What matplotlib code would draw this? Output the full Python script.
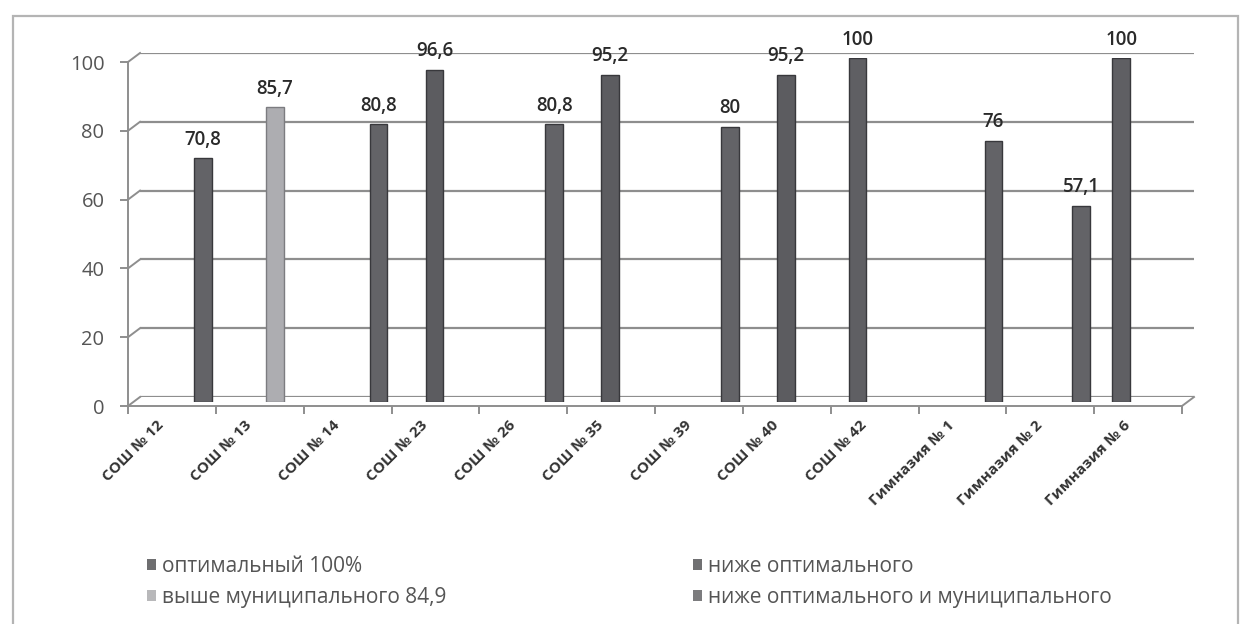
import numpy as np
import matplotlib.pyplot as plt
from matplotlib.patches import Rectangle, Patch
from matplotlib.lines import Line2D
from matplotlib.transforms import ScaledTranslation

plt.rcParams['font.family'] = ['Open Sans', 'DejaVu Sans']

nan = np.nan

categories = ['СОШ № 12', 'СОШ № 13', 'СОШ № 14', 'СОШ № 23', 'СОШ № 26', 'СОШ № 35',
              'СОШ № 39', 'СОШ № 40', 'СОШ № 42', 'Гимназия № 1', 'Гимназия № 2', 'Гимназия № 6']

# one value per school, the other series are empty there
optimal    = [nan, nan, nan, nan, nan, nan, nan, nan, 100, nan, nan, 100]
below_opt  = [nan, nan, nan, 96.6, nan, 95.2, nan, 95.2, nan, nan, nan, nan]
above_mun  = [nan, 85.7, nan, nan, nan, nan, nan, nan, nan, nan, nan, nan]
below_both = [70.8, nan, 80.8, nan, 80.8, nan, 80, nan, nan, 76, 57.1, nan]

series_names = ['оптимальный 100%', 'ниже оптимального',
                'выше муниципального 84,9', 'ниже оптимального и муниципального']
series_vals = [optimal, below_opt, above_mun, below_both]
series_colors = ['#5f5f63', '#5c5c60', '#adadb1', '#636367']
edge_colors = ['#38383c', '#38383c', '#7c7c80', '#38383c']
legend_colors = ['#6e6e70', '#707072', '#b8b8ba', '#7c7c7e']

yticks = [0, 20, 40, 60, 80, 100]

W, H = 1247, 624
fig = plt.figure(figsize=(W / 100, H / 100), dpi=100)


def px_axes(left, top, right, bottom):
    a = fig.add_axes([left / W, 1 - bottom / H, (right - left) / W, (bottom - top) / H])
    a.set_xlim(0, 12)
    a.set_ylim(0, 100)
    a.patch.set_alpha(0)
    return a


# outer chart frame
fig.patches.append(Rectangle((13 / W, -0.05), (1238 - 13) / W, 1 - 16 / H + 0.05,
                             transform=fig.transFigure, fill=False,
                             edgecolor='#b4b4b4', lw=1.6))

# back wall with gridlines
ax_back = px_axes(140, 53, 1194, 397)
for s in ax_back.spines.values():
    s.set_visible(False)
ax_back.set_xticks([])
ax_back.set_yticks(yticks)
ax_back.tick_params(left=False, labelleft=False)
ax_back.grid(axis='y', color='#8e8e8e', lw=1.6)

# front axes: ticks and labels
ax_front = px_axes(128, 62, 1182, 406)
ax_front.spines['top'].set_visible(False)
ax_front.spines['right'].set_visible(False)
for side in ['left', 'bottom']:
    ax_front.spines[side].set_color('#8e8e8e')
    ax_front.spines[side].set_linewidth(1.4)
ax_front.set_yticks(yticks)
ax_front.set_yticklabels([str(v) for v in yticks], fontsize=14.5, color='#555555')
ax_front.tick_params(axis='y', length=6, color='#8e8e8e', width=1.4, pad=11)
ax_front.set_xticks(np.arange(0, 13))
ax_front.set_xticklabels([])
ax_front.tick_params(axis='x', which='major', length=6, color='#8e8e8e', width=1.4)
ax_front.set_xticks(np.arange(12) + 0.5, minor=True)
ax_front.set_xticklabels(categories, minor=True, rotation=45, ha='right',
                         rotation_mode='anchor', fontsize=11, fontweight='bold',
                         color='#333333')
ax_front.tick_params(axis='x', which='minor', length=0, pad=9)
shift = ScaledTranslation(-0.15, 0, fig.dpi_scale_trans)
for lbl in ax_front.get_xticklabels(minor=True):
    lbl.set_transform(lbl.get_transform() + shift)

# 3d connectors between front and back
fig.canvas.draw()
inv = fig.transFigure.inverted()
for v in yticks:
    p1 = inv.transform(ax_front.transData.transform((0, v)))
    p2 = inv.transform(ax_back.transData.transform((0, v)))
    fig.lines.append(Line2D([p1[0], p2[0]], [p1[1], p2[1]], transform=fig.transFigure,
                            color='#8e8e8e', lw=1.4))
p1 = inv.transform(ax_front.transData.transform((12, 0)))
p2 = inv.transform(ax_back.transData.transform((12, 0)))
fig.lines.append(Line2D([p1[0], p2[0]], [p1[1], p2[1]], transform=fig.transFigure,
                        color='#8e8e8e', lw=1.4))

# bars
ax = px_axes(128, 58, 1182, 402)
ax.axis('off')
x = np.arange(len(categories))
slot = 0.182
bar_w = 0.2
for j, vals in enumerate(series_vals):
    vals = np.array(vals, dtype=float)
    mask = ~np.isnan(vals)
    xpos = x[mask] + 0.5 + (j - 1.5) * slot + 0.08
    bars = ax.bar(xpos, vals[mask], width=bar_w, color=series_colors[j],
                  edgecolor=edge_colors[j], linewidth=1.0, zorder=3)
    labels = [f'{v:g}'.replace('.', ',') for v in vals[mask]]
    ax.bar_label(bars, labels=labels, padding=6, fontsize=13.5, fontweight='semibold',
                 color='#2a2a2a', clip_on=False)

handles = [Patch(facecolor=legend_colors[k], label=series_names[k]) for k in [0, 2, 1, 3]]
fig.legend(handles=handles, ncol=2, loc='upper left', bbox_to_anchor=(128 / W, 1 - 537 / H),
           frameon=False, fontsize=15, handlelength=0.45, handleheight=0.45,
           handletextpad=0.3, columnspacing=11.8, labelspacing=0.5,
           labelcolor='#555555')

fig.savefig('out.png', dpi=100)
